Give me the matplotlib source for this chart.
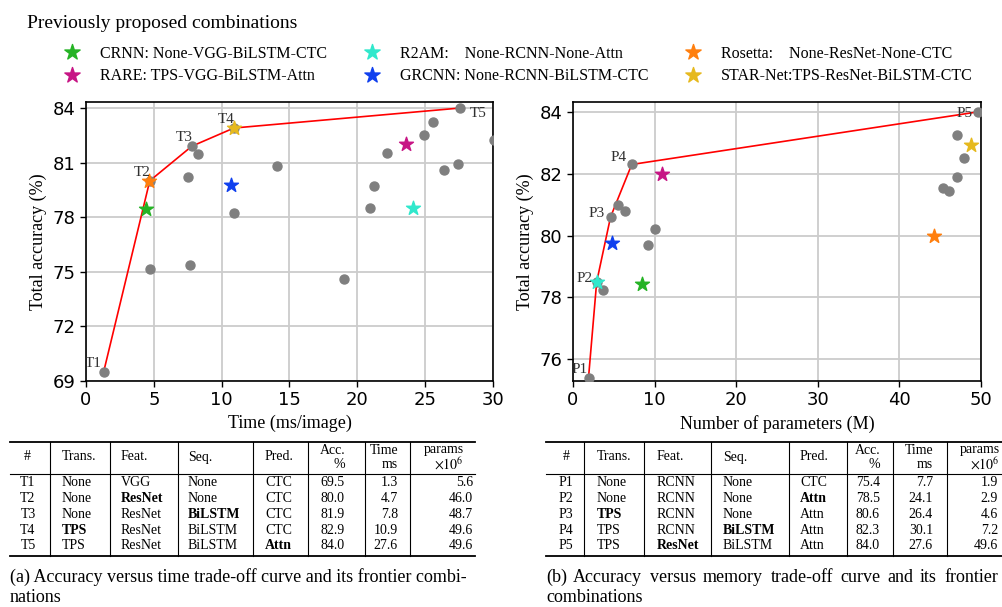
import matplotlib.pyplot as plt

plt.rcParams['font.family'] = ['Liberation Serif', 'DejaVu Serif']
plt.rcParams['mathtext.fontset'] = 'stix'

# frontier combinations, accuracy vs time
t_names = ['T1', 'T2', 'T3', 'T4', 'T5']
t_trans = ['None', 'None', 'None', 'TPS', 'TPS']
t_feat = ['VGG', 'ResNet', 'ResNet', 'ResNet', 'ResNet']
t_seq = ['None', 'None', 'BiLSTM', 'BiLSTM', 'BiLSTM']
t_pred = ['CTC', 'CTC', 'CTC', 'CTC', 'Attn']
t_acc = [69.5, 80.0, 81.9, 82.9, 84.0]
t_time = [1.3, 4.7, 7.8, 10.9, 27.6]
t_params = [5.6, 46.0, 48.7, 49.6, 49.6]
t_bold = [None, 2, 3, 1, 4]

# frontier combinations, accuracy vs memory
p_names = ['P1', 'P2', 'P3', 'P4', 'P5']
p_trans = ['None', 'None', 'TPS', 'TPS', 'TPS']
p_feat = ['RCNN', 'RCNN', 'RCNN', 'RCNN', 'ResNet']
p_seq = ['None', 'None', 'None', 'BiLSTM', 'BiLSTM']
p_pred = ['CTC', 'Attn', 'Attn', 'Attn', 'Attn']
p_acc = [75.4, 78.5, 80.6, 82.3, 84.0]
p_time = [7.7, 24.1, 26.4, 30.1, 27.6]
p_params = [1.9, 2.9, 4.6, 7.2, 49.6]
p_bold = [None, 4, 1, 3, 2]

# other combinations (grey dots)
grey_time = [8.25, 7.55, 4.7, 7.65, 10.9, 14.1, 19.0, 20.9, 21.2, 22.15,
             24.95, 25.6, 26.4, 27.4, 30.1]
grey_time_acc = [81.45, 80.2, 75.15, 75.4, 78.25, 80.8, 74.6, 78.5, 79.7, 81.55,
                 82.5, 83.25, 80.6, 80.95, 82.25]
grey_params = [3.7, 5.5, 6.4, 9.25, 10.05, 45.3, 46.1, 47.1, 47.1, 47.9]
grey_params_acc = [78.25, 81.0, 80.8, 79.7, 80.2, 81.55, 81.45, 83.25, 81.9, 82.5]

# previously proposed combinations
prev_labels = ['CRNN: None-VGG-BiLSTM-CTC', 'RARE: TPS-VGG-BiLSTM-Attn',
               'R2AM:    None-RCNN-None-Attn', 'GRCNN: None-RCNN-BiLSTM-CTC',
               'Rosetta:    None-ResNet-None-CTC', 'STAR-Net:TPS-ResNet-BiLSTM-CTC']
prev_colors = ['#25b325', '#c71585', '#30e8cc', '#1040ee', '#ff7f0e', '#e6b91e']
prev_acc = [78.45, 82.0, 78.5, 79.75, 80.0, 82.92]
prev_time = [4.4, 23.6, 24.1, 10.7, 4.65, 10.9]
prev_params = [8.45, 10.9, 2.95, 4.75, 44.3, 48.8]

fig = plt.figure(figsize=(10.03, 6.07), dpi=100)
W, H = 1003, 607


def setup_axes(ax, xlim, ylim, yticks, xlabel):
    ax.set_xlim(*xlim)
    ax.set_ylim(*ylim)
    ax.set_yticks(yticks)
    ax.grid(True, color='#cccccc', lw=1.3, zorder=0)
    ax.set_axisbelow(True)
    ax.tick_params(labelsize=13, labelfontfamily='DejaVu Sans', direction='out',
                   length=4, width=1)
    for s in ax.spines.values():
        s.set_linewidth(1.2)
    ax.set_xlabel(xlabel, fontsize=13)
    ax.set_ylabel('Total accuracy (%)', fontsize=13)


def annotate(ax, names, xs, ys, offsets, aligns):
    for n, x, y, off, ha in zip(names, xs, ys, offsets, aligns):
        ax.annotate(n, (x, y), xytext=off, textcoords='offset pixels',
                    ha=ha, va='baseline', fontsize=11, color='#303030', zorder=5)


ax1 = fig.add_axes([86 / W, 1 - 381 / H, 407 / W, 279 / H])
setup_axes(ax1, (0, 30), (69, 84.33), [69, 72, 75, 78, 81, 84], 'Time (ms/image)')
ax1.plot(t_time, t_acc, color='red', lw=1.2, zorder=2)
ax1.scatter(grey_time + t_time, grey_time_acc + t_acc, s=42, color='#7f7f7f',
            zorder=3)
handles = []
for lab, c, x, y in zip(prev_labels, prev_colors, prev_time, prev_acc):
    handles.append(ax1.scatter([x], [y], s=110, marker='*', color=c, zorder=4, label=lab))
annotate(ax1, t_names, t_time, t_acc,
         [(-2, 5), (1, 5), (1, 5), (1, 5), (9, -9)],
         ['right', 'right', 'right', 'right', 'left'])

ax2 = fig.add_axes([573 / W, 1 - 381 / H, 408 / W, 279 / H])
setup_axes(ax2, (0, 50), (75.3, 84.32), [76, 78, 80, 82, 84], 'Number of parameters (M)')
ax2.plot(p_params, p_acc, color='red', lw=1.2, zorder=2)
ax2.scatter(grey_params + p_params, grey_params_acc + p_acc, s=42, color='#7f7f7f',
            zorder=3)
for c, x, y in zip(prev_colors, prev_params, prev_acc):
    ax2.scatter([x], [y], s=110, marker='*', color=c, zorder=4)
annotate(ax2, p_names, p_params, p_acc,
         [(-1, 5), (-4, 0), (-6, 0), (-5, 3), (-5, -5)],
         ['right'] * 5)

# legend on top
fig.text(27 / W, 1 - 24 / H, 'Previously proposed combinations', fontsize=14,
         ha='left', va='center')
fig.legend(handles, prev_labels, ncol=3, loc='upper left',
           bbox_to_anchor=(64 / W, 1 - 46 / H), frameon=False, fontsize=11.5,
           borderpad=0, borderaxespad=0, handlelength=1.0, handletextpad=1.25,
           columnspacing=2.3, labelspacing=0.4, scatterpoints=1,
           scatteryoffsets=[0.5], markerscale=1.1)

# overlay in pixel coordinates for the tables and captions
ov = fig.add_axes([0, 0, 1, 1])
ov.set_xlim(0, W)
ov.set_ylim(H, 0)
ov.axis('off')


def draw_table(left, right, vlines, hdr_x, cell_x, names, cols, bold):
    top, mid, bot = 442, 474, 556
    ov.plot([left, right], [top, top], color='black', lw=1.3)
    ov.plot([left, right], [mid, mid], color='black', lw=0.8)
    ov.plot([left, right], [bot, bot], color='black', lw=1.3)
    for v in vlines:
        ov.plot([v, v], [top, bot], color='black', lw=0.8)
    aligns = ['center', 'left', 'left', 'left', 'left', 'right', 'right', 'right']
    single = ['#', 'Trans.', 'Feat.', 'Seq.', 'Pred.']
    for x, h, a in zip(hdr_x[:5], single, aligns):
        ov.text(x, 457, h, ha=a, va='center', fontsize=10)
    for x, (l1, l2) in zip(hdr_x[5:], [('Acc.', '%'), ('Time', 'ms'),
                                       ('params', r'$\times10^6$')]):
        ov.text(x, 450, l1, ha='right', va='center', fontsize=10)
        ov.text(x, 464, l2, ha='right', va='center', fontsize=10)
    for i, name in enumerate(names):
        y = 483 + 15.7 * i
        row = [name] + [c[i] for c in cols[:4]] + ['%.1f' % c[i] for c in cols[4:]]
        for j, (x, txt, a) in enumerate(zip(cell_x, row, aligns)):
            ov.text(x, y, txt, ha=a, va='center', fontsize=10,
                    fontweight='bold' if bold[i] == j else 'normal')


draw_table(10, 475, [50, 110, 178, 253, 308, 365, 410],
           [27, 62, 121, 188, 265, 345, 398, 464],
           [28, 62, 121, 188, 265, 345, 398, 473],
           t_names, [t_trans, t_feat, t_seq, t_pred, t_acc, t_time, t_params], t_bold)
draw_table(546, 1010, [584, 644, 711, 789, 847, 893, 947],
           [566, 597, 657, 723, 800, 880, 933, 1000],
           [566, 597, 657, 723, 800, 880, 933, 998],
           p_names, [p_trans, p_feat, p_seq, p_pred, p_acc, p_time, p_params], p_bold)

# captions
ov.text(10, 577, '(a) Accuracy versus time trade-off curve and its frontier combi-',
        ha='left', va='center', fontsize=13)
ov.text(10, 597, 'nations', ha='left', va='center', fontsize=13)
cap_words = ['(b)', 'Accuracy', 'versus', 'memory', 'trade-off', 'curve', 'and',
             'its', 'frontier']
cap_x = [546, 573, 650, 703, 771, 840, 887, 920, 944]
for x, w in zip(cap_x, cap_words):
    ov.text(x, 577, w, ha='left', va='center', fontsize=13)
ov.text(546, 597, 'combinations', ha='left', va='center', fontsize=13)

fig.savefig('out.png', dpi=100)
